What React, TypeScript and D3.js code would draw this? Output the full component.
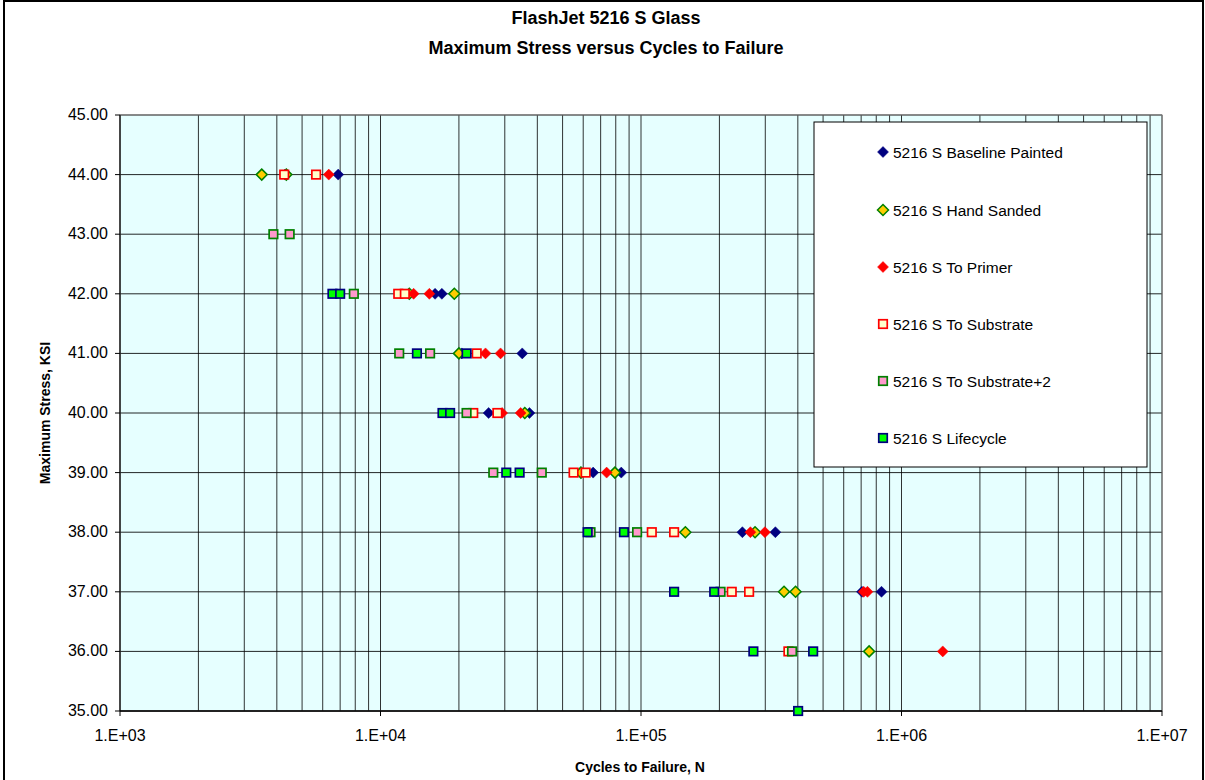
import React from "react";
import * as d3 from "d3";

const stressTicks = [35, 36, 37, 38, 39, 40, 41, 42, 43, 44, 45];
const cycleTicks = [1e3, 1e4, 1e5, 1e6, 1e7];
const cycleTickLabels = ["1.E+03", "1.E+04", "1.E+05", "1.E+06", "1.E+07"];

const baselineN = [4.3e3, 6.88e3, 1.62e4, 1.72e4, 2.05e4, 3.5e4, 2.6e4, 3.73e4, 6.55e4, 8.4e4, 2.45e5, 3.28e5, 7.05e5, 8.38e5];
const baselineS = [44, 44, 42, 42, 41, 41, 40, 40, 39, 39, 38, 38, 37, 37];

const handSandedN = [3.5e3, 4.35e3, 1.29e4, 1.92e4, 2.0e4, 3.58e4, 5.88e4, 7.94e4, 1.48e5, 2.74e5, 3.54e5, 3.92e5, 7.51e5];
const handSandedS = [44, 44, 42, 42, 41, 40, 39, 39, 38, 38, 37, 37, 36];

const primerN = [6.33e3, 1.34e4, 1.54e4, 2.53e4, 2.89e4, 2.93e4, 3.45e4, 7.38e4, 2.63e5, 2.99e5, 7.16e5, 7.4e5, 1.44e6];
const primerS = [44, 42, 42, 41, 41, 40, 40, 39, 38, 38, 37, 37, 36];

const substrateN = [4.27e3, 5.66e3, 1.17e4, 1.24e4, 2.34e4, 2.27e4, 2.81e4, 5.51e4, 6.13e4, 1.1e5, 1.34e5, 2.23e5, 2.6e5, 3.68e5];
const substrateS = [44, 44, 42, 42, 41, 40, 40, 39, 39, 38, 38, 37, 37, 36];

const substrate2N = [3.88e3, 4.48e3, 7.9e3, 1.18e4, 1.55e4, 2.14e4, 2.71e4, 4.16e4, 6.4e4, 9.66e4, 2.02e5, 3.8e5];
const substrate2S = [43, 43, 42, 41, 41, 40, 39, 39, 38, 38, 37, 36];

const lifecycleN = [6.54e3, 7.0e3, 1.38e4, 2.14e4, 1.73e4, 1.85e4, 3.04e4, 3.42e4, 6.24e4, 8.6e4, 1.34e5, 1.91e5, 2.7e5, 4.58e5, 4.01e5];
const lifecycleS = [42, 42, 41, 41, 40, 40, 39, 39, 38, 38, 37, 37, 36, 36, 35];

const seriesNames = [
  "5216 S Baseline Painted",
  "5216 S Hand Sanded",
  "5216 S To Primer",
  "5216 S To Substrate",
  "5216 S To Substrate+2",
  "5216 S Lifecycle",
];

type Style = { shape: "diamond" | "square"; fill: string; stroke: string };
const styles: Style[] = [
  { shape: "diamond", fill: "#000080", stroke: "#000080" },
  { shape: "diamond", fill: "#FFCC00", stroke: "#008000" },
  { shape: "diamond", fill: "#FF0000", stroke: "#FF0000" },
  { shape: "square", fill: "#FFFFCC", stroke: "#FF0000" },
  { shape: "square", fill: "#FF99CC", stroke: "#008000" },
  { shape: "square", fill: "#00FF00", stroke: "#000080" },
];

const seriesData = [
  [baselineN, baselineS],
  [handSandedN, handSandedS],
  [primerN, primerS],
  [substrateN, substrateS],
  [substrate2N, substrate2S],
  [lifecycleN, lifecycleS],
];

const FONT = "'Liberation Sans', Arial, sans-serif";

function Marker({ x, y, st }: { x: number; y: number; st: Style }) {
  if (st.shape === "diamond") {
    const r = 5.5;
    const d = `M${x},${y - r}L${x + r},${y}L${x},${y + r}L${x - r},${y}Z`;
    const sw = st.fill === st.stroke ? 0.5 : 1.5;
    return <path d={d} fill={st.fill} stroke={st.stroke} strokeWidth={sw} />;
  }
  const s = 8.5;
  return (
    <rect x={x - s / 2} y={y - s / 2} width={s} height={s} fill={st.fill} stroke={st.stroke} strokeWidth={1.7} />
  );
}

export default function App() {
  const W = 1205;
  const H = 780;
  const left = 120,
    right = 1162,
    top = 115,
    bottom = 711;
  const x = d3.scaleLog().domain([1e3, 1e7]).range([left, right]);
  const y = d3.scaleLinear().domain([35, 45]).range([bottom, top]);

  const minorX: number[] = [];
  for (let d = 3; d < 7; d++) {
    for (let k = 1; k <= 9; k++) minorX.push(k * Math.pow(10, d));
  }
  minorX.push(1e7);

  const legX = 814,
    legY = 122,
    legW = 333,
    legH = 345;
  const legRows = [152, 210, 267, 324, 381, 438];

  return (
    <svg width={W} height={H} style={{ position: "absolute", left: 0, top: 0, background: "#fff" }} fontFamily={FONT}>
      <rect x={4} y={1} width={1199} height={H + 10} fill="#fff" stroke="#000" strokeWidth={2} />
      <text x={606} y={24} textAnchor="middle" fontSize={18} fontWeight="bold">
        FlashJet 5216 S Glass
      </text>
      <text x={606} y={54} textAnchor="middle" fontSize={18} fontWeight="bold">
        Maximum Stress versus Cycles to Failure
      </text>

      <rect x={left} y={top} width={right - left} height={bottom - top} fill="#E6FFFF" />
      {minorX.map((v, i) => (
        <line key={"vx" + i} x1={x(v)} x2={x(v)} y1={top} y2={bottom} stroke="#000" strokeWidth={1} strokeOpacity={0.8} />
      ))}
      {stressTicks.map((v, i) => (
        <line key={"hy" + i} x1={left} x2={right} y1={y(v)} y2={y(v)} stroke="#000" strokeWidth={1} strokeOpacity={0.85} />
      ))}
      <rect x={left} y={top} width={right - left} height={bottom - top} fill="none" stroke="#808080" strokeWidth={1} />
      <line x1={left} x2={right} y1={bottom} y2={bottom} stroke="#000" strokeWidth={1.5} />
      <line x1={left} x2={left} y1={top} y2={bottom} stroke="#000" strokeWidth={1} />

      {stressTicks.map((v, i) => (
        <g key={"yt" + i}>
          <line x1={left - 5} x2={left} y1={y(v)} y2={y(v)} stroke="#000" />
          <text x={108} y={y(v) + 5} textAnchor="end" fontSize={16}>
            {v.toFixed(2)}
          </text>
        </g>
      ))}
      {cycleTicks.map((v, i) => (
        <g key={"xt" + i}>
          <line x1={x(v)} x2={x(v)} y1={bottom} y2={bottom + 5} stroke="#000" />
          <text x={x(v)} y={741} textAnchor="middle" fontSize={16}>
            {cycleTickLabels[i]}
          </text>
        </g>
      ))}
      <text x={640} y={772} textAnchor="middle" fontSize={14} fontWeight="bold">
        Cycles to Failure, N
      </text>
      <text transform={`translate(50,${(top + bottom) / 2}) rotate(-90)`} textAnchor="middle" fontSize={14} fontWeight="bold">
        Maximum Stress, KSI
      </text>

      {seriesData.map(([ns, ss], si) => (
        <g key={"s" + si}>
          {ns.map((n, j) => (
            <Marker key={j} x={x(n)} y={y(ss[j])} st={styles[si]} />
          ))}
        </g>
      ))}

      <rect x={legX} y={legY} width={legW} height={legH} fill="#fff" stroke="#000" strokeWidth={1} />
      {seriesNames.map((name, i) => (
        <g key={"lg" + i}>
          <Marker x={883} y={legRows[i]} st={styles[i]} />
          <text x={893} y={legRows[i] + 5.5} fontSize={15.5}>
            {name}
          </text>
        </g>
      ))}
    </svg>
  );
}
